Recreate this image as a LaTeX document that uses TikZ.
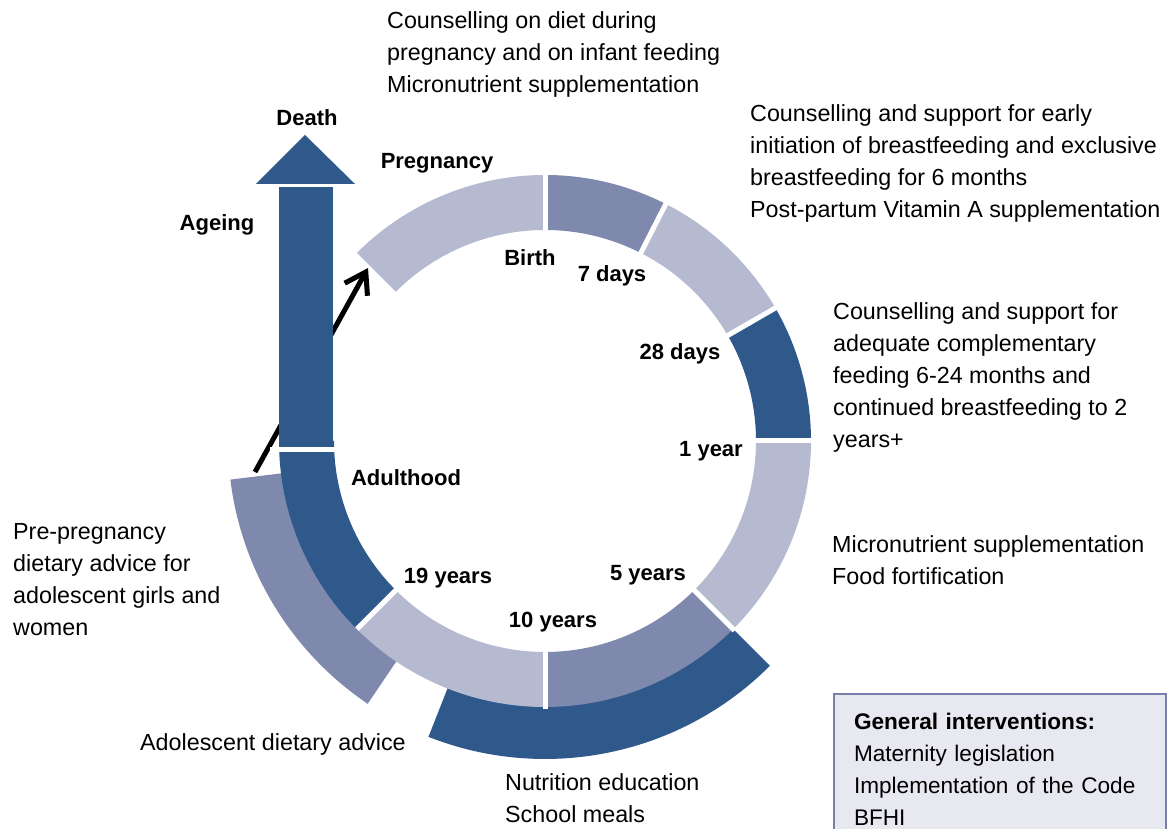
\documentclass[tikz,border=0pt]{standalone}
\usepackage{fontspec}
\setmainfont{Liberation Sans}
\usetikzlibrary{arrows.meta}

\definecolor{ringlight}{RGB}{182,186,208}
\definecolor{ringmid}{RGB}{127,137,173}
\definecolor{ringdark}{RGB}{47,89,138}
\definecolor{boxfill}{RGB}{231,232,240}
\definecolor{boxline}{RGB}{118,128,170}

% one piece of the life-course ring: start angle, end angle, colour
\newcommand{\ringpiece}[3]{%
  \fill[#3] (#1:266) arc[start angle=#1, end angle=#2, radius=266]
    -- (#2:211) arc[start angle=#2, end angle=#1, radius=211] -- cycle;}

\begin{document}
\begin{tikzpicture}[x=1pt, y=1pt,
  every node/.style={inner sep=0pt, font=\fontsize{23.3}{32}\selectfont},
  stage/.style={font=\fontsize{22}{26}\selectfont\bfseries},
  note/.style={align=left, anchor=base west}]
\useasboundingbox (0,0) rectangle (1168,829);
\clip (0,0) rectangle (1168,829);

% interventions lying outside the ring
\begin{scope}[shift={(545,388)}]
  \fill[ringdark] (-111.5:318) arc[start angle=-111.5, end angle=-45, radius=318]
    -- (-45:250) arc[start angle=-45, end angle=-111.5, radius=250] -- cycle;
  \fill[ringmid] (187:317) arc[start angle=187, end angle=236, radius=317]
    -- (236:250) arc[start angle=236, end angle=187, radius=250] -- cycle;
\end{scope}

% adulthood back to pregnancy
\coordinate (ageS) at (255,357);
\coordinate (ageE) at (368,561);
\draw[line width=5, -{Straight Barb[length=20,width=26]}] (ageS) -- (ageE);

% the ring
\begin{scope}[shift={(545,388)}]
  \ringpiece{90}{135}{ringlight}
  \ringpiece{63}{90}{ringmid}
  \ringpiece{30}{63}{ringlight}
  \ringpiece{0}{30}{ringdark}
  \ringpiece{-45}{0}{ringlight}
  \ringpiece{-90}{-45}{ringmid}
  \ringpiece{-135}{-90}{ringlight}
  \ringpiece{180}{225}{ringdark}
  \foreach \a in {90,63,30,0,-45,-90}
    \draw[white, line width=5] (\a:205) -- (\a:268);
  \draw[white, line width=5] (-135:205) -- (-135:266);
\end{scope}

% ageing arrow
\fill[ringdark] (279,382) rectangle (333,642);
\fill[ringdark] (256,645) -- (355,645) -- (305,694) -- cycle;
\fill[white] (270,377) rectangle (340,382);

\node[stage] (death) at (307,711) {Death};
\node[stage] (ageing) at (217,604) {Ageing};
\node[stage] (pregnancy) at (437,666) {Pregnancy};
\node[stage] (birth) at (530,571) {Birth};
\node[stage] (days7) at (612,553) {7 days};
\node[stage] (days28) at (680,475) {28 days};
\node[stage] (year1) at (711,378) {1 year};
\node[stage] (adulthood) at (406,351) {Adulthood};
\node[stage] (years19) at (448,251) {19 years};
\node[stage] (years5) at (648,254) {5 years};
\node[stage] (years10) at (553,207) {10 years};

% the anchor sits on the last line
\node[note] (diet) at (387,736) {Counselling on diet during\\pregnancy and on infant feeding\\Micronutrient supplementation};
\node[note] (breast) at (750,611) {Counselling and support for early\\initiation of breastfeeding and exclusive\\breastfeeding for 6 months\\Post-partum Vitamin A supplementation};
\node[note] (complement) at (833,381) {Counselling and support for\\adequate complementary\\feeding 6-24 months and\\continued breastfeeding to 2\\years+};
\node[note] (micro) at (832,244) {Micronutrient supplementation\\Food fortification};
\node[note] (prepreg) at (13,193) {Pre-pregnancy\\dietary advice for\\adolescent girls and\\women};
\node[note] (adolescent) at (140,78) {Adolescent dietary advice};
\node[note] (school) at (505,6) {Nutrition education\\School meals};

\node[draw=boxline, fill=boxfill, line width=2, anchor=north west, align=left,
  text width=292, inner xsep=20, inner ysep=19,
  font=\fontsize{22.6}{32}\selectfont] (general) at (833,136)
  {\textbf{General interventions:}\\Maternity legislation\\Implementation of the Code\\BFHI};
\end{tikzpicture}
\end{document}
